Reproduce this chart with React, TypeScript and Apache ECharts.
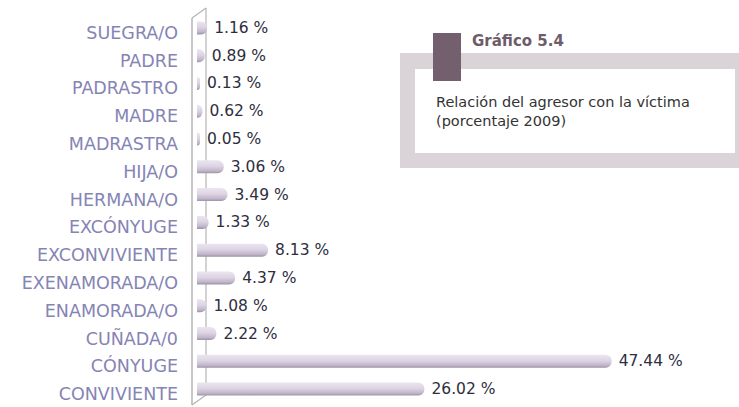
import React, { useEffect, useRef } from "react";
import * as echarts from "echarts";

const categories = [
  "SUEGRA/O",
  "PADRE",
  "PADRASTRO",
  "MADRE",
  "MADRASTRA",
  "HIJA/O",
  "HERMANA/O",
  "EXCÓNYUGE",
  "EXCONVIVIENTE",
  "EXENAMORADA/O",
  "ENAMORADA/O",
  "CUÑADA/0",
  "CÓNYUGE",
  "CONVIVIENTE",
];
const values = [1.16, 0.89, 0.13, 0.62, 0.05, 3.06, 3.49, 1.33, 8.13, 4.37, 1.08, 2.22, 47.44, 26.02];
const titleText = "Gráfico 5.4";
const subtitleLines = ["Relación del agresor con la víctima", "(porcentaje 2009)"];

export default function App() {
  const ref = useRef<HTMLDivElement>(null);
  useEffect(() => {
    if (!ref.current) return;
    const chart = echarts.init(ref.current, null, { renderer: "svg" });
    const wall = "#b4b4b4";
    chart.setOption({
      animation: false,
      backgroundColor: "#ffffff",
      grid: { left: 197, top: 14, height: 389, width: 437 },
      xAxis: {
        type: "value",
        min: 0,
        max: 50,
        show: false,
      },
      yAxis: {
        type: "category",
        inverse: true,
        data: categories,
        axisLine: { show: false },
        axisTick: { show: false },
        axisLabel: {
          margin: 19,
          color: "#8584b4",
          fontFamily: "DejaVu Sans",
          fontSize: 17.5,
          verticalAlign: "top",
          lineHeight: 10,
        },
      },
      series: [
        {
          type: "bar",
          data: values,
          barWidth: 13,
          barMinHeight: 3,
          itemStyle: {
            borderRadius: [0, 6, 6, 0],
            color: new echarts.graphic.LinearGradient(0, 0, 0, 1, [
              { offset: 0, color: "#ebe5ef" },
              { offset: 0.45, color: "#ddd4e4" },
              { offset: 0.8, color: "#c2b7cb" },
              { offset: 1, color: "#9c91a6" },
            ]),
          },
          label: {
            show: true,
            position: "right",
            distance: 7,
            color: "#2e2e3e",
            fontFamily: "DejaVu Sans",
            fontSize: 15.5,
            formatter: (p: any) => p.value.toFixed(2) + " %",
          },
        },
      ],
      graphic: [
        { type: "line", shape: { x1: 192, y1: 18, x2: 192, y2: 405 }, style: { stroke: wall, lineWidth: 1.5 }, z: -1 },
        { type: "line", shape: { x1: 206, y1: 8, x2: 206, y2: 395 }, style: { stroke: wall, lineWidth: 1.2 }, z: -1 },
        { type: "line", shape: { x1: 192, y1: 18, x2: 206, y2: 8 }, style: { stroke: wall, lineWidth: 1.2 }, z: -1 },
        { type: "line", shape: { x1: 192, y1: 405, x2: 206, y2: 395 }, style: { stroke: wall, lineWidth: 1.2 }, z: -1 },
        { type: "rect", shape: { x: 400, y: 53, width: 339, height: 115 }, style: { fill: "#dad4d9" }, z: 10 },
        { type: "rect", shape: { x: 415, y: 69, width: 320, height: 84 }, style: { fill: "#ffffff" }, z: 11 },
        { type: "rect", shape: { x: 433, y: 33, width: 28, height: 48 }, style: { fill: "#745f6f" }, z: 12 },
        {
          type: "text",
          x: 472,
          y: 41,
          style: {
            text: titleText,
            fill: "#6e5c6b",
            font: "bold 15px 'DejaVu Sans'",
            textVerticalAlign: "middle",
          },
          z: 12,
        },
        {
          type: "text",
          x: 436,
          y: 102,
          style: {
            text: subtitleLines[0],
            fill: "#333333",
            font: "14.5px 'DejaVu Sans'",
            textVerticalAlign: "middle",
          },
          z: 12,
        },
        {
          type: "text",
          x: 436,
          y: 121,
          style: {
            text: subtitleLines[1],
            fill: "#333333",
            font: "14.5px 'DejaVu Sans'",
            textVerticalAlign: "middle",
          },
          z: 12,
        },
      ],
    });
    return () => chart.dispose();
  }, []);
  return <div ref={ref} style={{ width: 739, height: 407, position: "absolute", left: 0, top: 0 }} />;
}
